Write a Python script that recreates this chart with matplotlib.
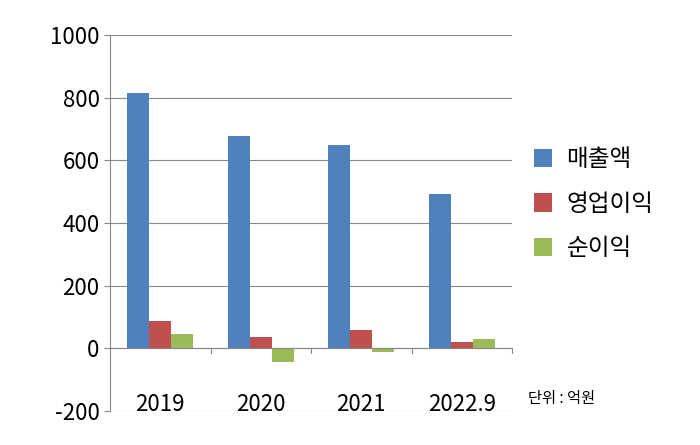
import matplotlib
matplotlib.use("Agg")
import matplotlib.pyplot as plt
import numpy as np

plt.rcParams['font.family'] = ['Noto Sans CJK KR', 'DejaVu Sans']
plt.rcParams['axes.unicode_minus'] = False

categories = ['2019', '2020', '2021', '2022.9']
sales = [815, 678, 650, 493]
op_income = [86, 35, 57, 19]
net_income = [45, -45, -13, 29]
series_names = ['매출액', '영업이익', '순이익']
colors = ['#4F81BD', '#C0504D', '#9BBB59']

fig = plt.figure(figsize=(7, 4.45), dpi=100)
ax = fig.add_axes([110/700, 1-411/445, 402/700, 376/445])
x = np.arange(len(categories))
w = 0.22
for i, (vals, name, c) in enumerate(zip([sales, op_income, net_income], series_names, colors)):
    ax.bar(x + (i-1)*w, vals, w, color=c, label=name, zorder=3)

ax.set_xlim(-0.5, 3.5)
ax.set_ylim(-200, 1000)
ax.set_yticks(range(-200, 1001, 200))
ax.yaxis.grid(True, color='#888888', linewidth=0.8, zorder=0)
for s in ['top', 'right', 'bottom']:
    ax.spines[s].set_visible(False)
ax.spines['left'].set_color('#888888')
ax.axhline(0, color='#888888', linewidth=0.8, zorder=4)
for b in [0.5, 1.5, 2.5, 3.5]:
    ax.plot([b, b], [0, -15], color='#888888', linewidth=0.8, clip_on=False)
ax.set_xticks([])
ax.tick_params(axis='y', labelsize=16, length=4, color='#888888')
for xi, c in zip(x, categories):
    ax.text(xi, -180, c, ha='center', va='center', fontsize=16)
fig.text(528/700, 1-398/445, '단위 : 억원', fontsize=11, va='center')
ax.legend(loc='center left', bbox_to_anchor=(1.03, 0.55), frameon=False, fontsize=17,
          handlelength=0.8, handleheight=0.8, handletextpad=0.6, labelspacing=0.9,
          borderaxespad=0)
fig.savefig('out.png', dpi=100)
